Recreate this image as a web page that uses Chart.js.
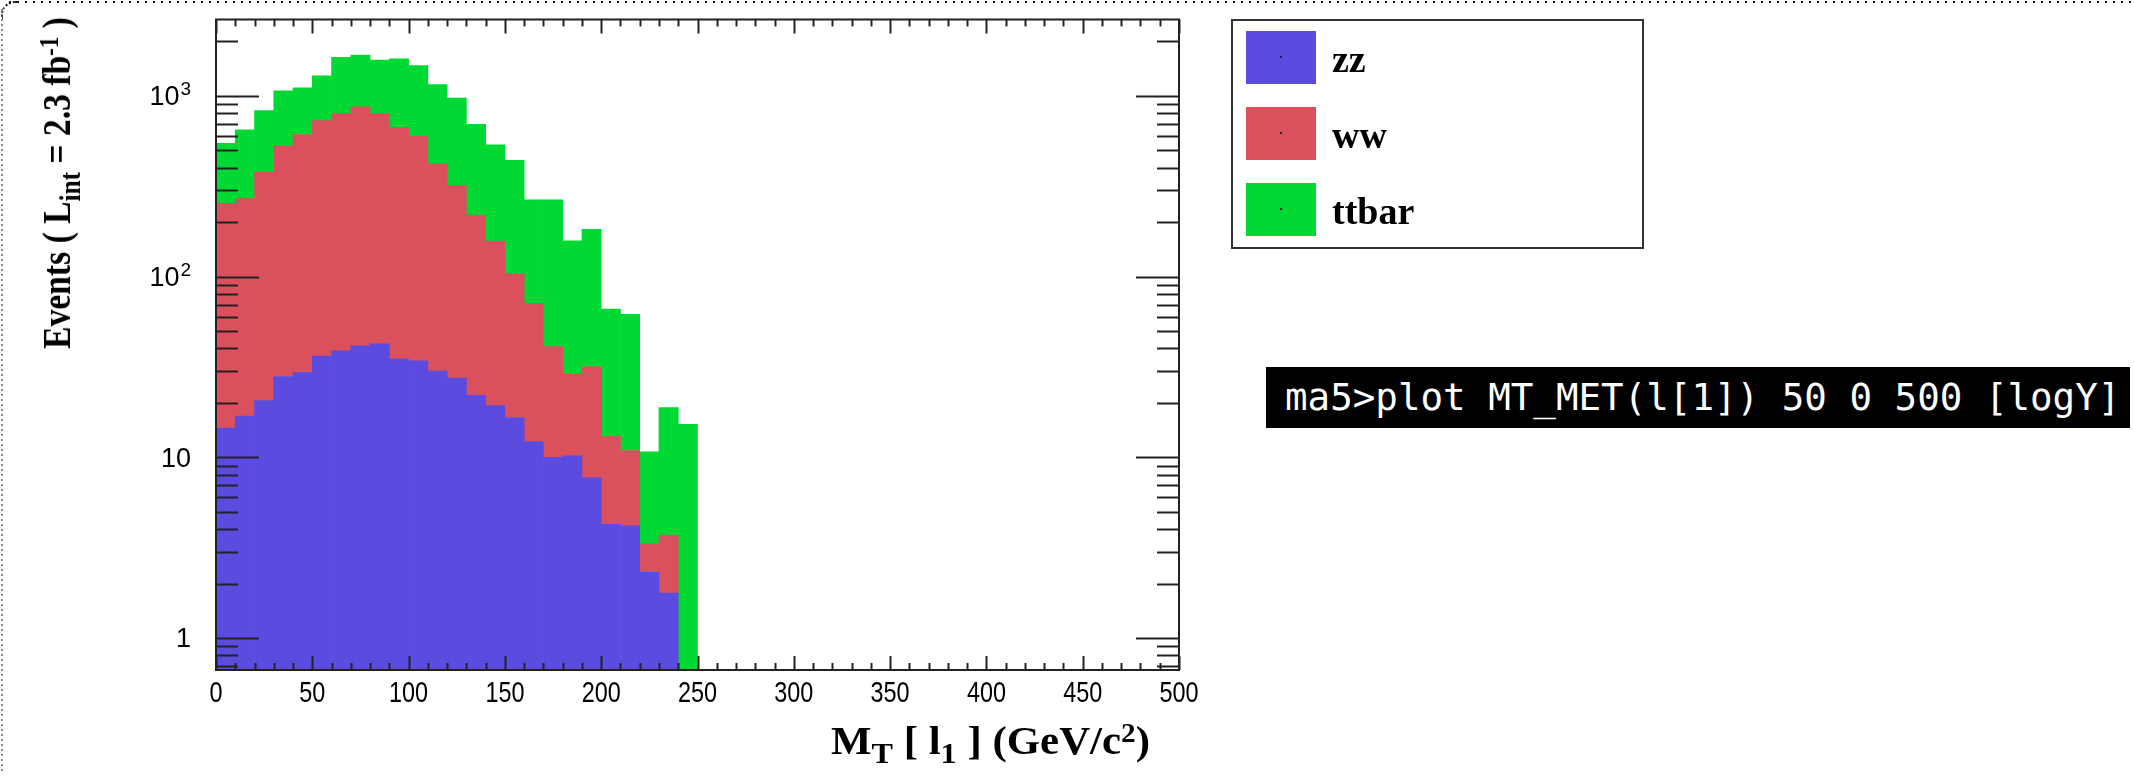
<!DOCTYPE html>
<html>
<head>
<meta charset="utf-8">
<title>MT_MET(l[1])</title>
<script src="https://cdn.jsdelivr.net/npm/chart.js@4.4.0/dist/chart.umd.min.js"></script>
<style>
  html, body { margin: 0; padding: 0; background: #fff; }
  #page { position: relative; width: 2134px; height: 780px; overflow: hidden; }
  #chart { position: absolute; left: 0; top: 0; }
  .dots-top { position: absolute; left: 9px; top: 1px; width: 2125px; height: 2px;
    background: repeating-linear-gradient(to right, #111 0 2px, transparent 2px 8px); }
  .dots-left { position: absolute; left: 1px; top: 9px; width: 2px; height: 762px;
    background: repeating-linear-gradient(to bottom, #888 0 2px, transparent 2px 5px); }
  .corner { position: absolute; left: 1px; top: 1px; width: 16px; height: 16px;
    border-top-left-radius: 14px; border-top: 2px dotted #111; border-left: 2px dotted #444; }
  .serif { position: absolute; font-family: "Liberation Serif", "Times New Roman", serif;
    font-weight: bold; color: #000; white-space: nowrap; }
  .lo { position: relative; top: 0.32em; font-size: 75%; }
  .hi { position: relative; top: -0.45em; font-size: 68%; }
  #xtitle { right: 984px; top: 721px; font-size: 39px; line-height: 39px;
    transform: scaleX(1.1); transform-origin: right center; }
  #ytitle { left: 59px; top: 183px; font-size: 40px; line-height: 40px;
    transform: translate(-50%, -50%) rotate(-90deg) scaleX(0.84); }
  #legend { position: absolute; left: 1231px; top: 19px; width: 413px; height: 230px;
    box-sizing: border-box; border: 2px solid #333; }
  .swatch { position: absolute; left: 1246px; width: 70px; height: 53px; }
  .swatch i { position: absolute; left: 34px; top: 25px; width: 2px; height: 2px; background: #222; }
  .entry { left: 1332px; font-size: 38px; line-height: 38px; }
  #cmd { position: absolute; left: 1266px; top: 367px; width: 864px; height: 61px;
    box-sizing: border-box; padding-left: 19px; background: #000; color: #fff;
    font-family: "DejaVu Sans Mono", "Liberation Mono", monospace; font-size: 37.5px;
    line-height: 61px; white-space: nowrap; }
</style>
</head>
<body>
<div id="page">
  <canvas id="chart" width="2134" height="780"></canvas>
  <div class="dots-top"></div>
  <div class="dots-left"></div>
  <div class="corner"></div>

  <div id="ytitle" class="serif">Events ( L<span class="lo">int</span> = 2.3 fb<span class="hi">-1</span> )</div>
  <div id="xtitle" class="serif">M<span class="lo">T</span> [ l<span class="lo">1</span> ] (GeV/c<span class="hi">2</span>)</div>

  <div id="legend"></div>
  <div id="legend-items"></div>

  <div id="cmd">ma5&gt;plot MT_MET(l[1]) 50 0 500 [logY]</div>
</div>

<script>
// 50 bins from 0 to 500 (lower edges)
const binLow = [0, 10, 20, 30, 40, 50, 60, 70, 80, 90,
  100, 110, 120, 130, 140, 150, 160, 170, 180, 190,
  200, 210, 220, 230, 240, 250, 260, 270, 280, 290,
  300, 310, 320, 330, 340, 350, 360, 370, 380, 390,
  400, 410, 420, 430, 440, 450, 460, 470, 480, 490];
const binWidth = 10;

// events per bin
const zz = [14.5, 16.9, 20.6, 28.0, 29.4, 36.3, 38.8, 41.4, 42.5, 34.9,
  34.2, 30.0, 27.4, 22.0, 19.3, 16.6, 12.2, 10.0, 10.2, 7.7,
  4.25, 4.17, 2.31, 1.77, 0, 0, 0, 0, 0, 0,
  0, 0, 0, 0, 0, 0, 0, 0, 0, 0,
  0, 0, 0, 0, 0, 0, 0, 0, 0, 0];
const ww = [240, 253, 357, 501, 582, 694, 759, 828, 756, 633,
  564, 392, 291, 197, 138, 87, 59, 31, 18.6, 24.1,
  8.75, 6.73, 1.01, 1.94, 0, 0, 0, 0, 0, 0,
  0, 0, 0, 0, 0, 0, 0, 0, 0, 0,
  0, 0, 0, 0, 0, 0, 0, 0, 0, 0];
const ttbar = [292, 378, 452, 537, 496, 560, 839, 811, 779, 935,
  874, 733, 653, 478, 379, 336, 195, 225, 129, 151,
  53, 51, 7.4, 15.1, 15.2, 0, 0, 0, 0, 0,
  0, 0, 0, 0, 0, 0, 0, 0, 0, 0,
  0, 0, 0, 0, 0, 0, 0, 0, 0, 0];

const seriesNames = ["zz", "ww", "ttbar"];
const seriesColors = ["#5b4cdf", "#db505d", "#00d934"];

// axis ticks
const xTickValues = [0, 50, 100, 150, 200, 250, 300, 350, 400, 450, 500];
const xTickLabels = ["0", "50", "100", "150", "200", "250", "300", "350", "400", "450", "500"];
const yTickValues = [1, 10, 100, 1000];
const yTickLabels = ["1", "10", "10^2", "10^3"];
const yMinorTicks = [0.7, 0.8, 0.9, 2, 3, 4, 5, 6, 7, 8, 9,
  20, 30, 40, 50, 60, 70, 80, 90, 200, 300, 400, 500, 600, 700, 800, 900, 2000];
const xMin = 0, xMax = 500, yMin = 0.665, yMax = 2647;

// legend (html)
let legendHtml = "";
seriesNames.forEach(function (name, i) {
  let top = 31 + i * 76;
  legendHtml += '<div class="swatch" style="top:' + top + 'px;background:' + seriesColors[i] + '"><i></i></div>';
  legendHtml += '<div class="serif entry" style="top:' + (top + 9) + 'px">' + name + '</div>';
});
document.getElementById("legend-items").innerHTML = legendHtml;

function toPoints(values) {
  return binLow.map(function (lo, i) {
    return { x: lo + binWidth / 2, y: values[i] > 0 ? values[i] : null };
  });
}

// ROOT style frame: inward ticks on all four sides + labels
const rootFrame = {
  id: "rootFrame",
  afterDraw(chart) {
    const ctx = chart.ctx;
    const a = chart.chartArea;
    const x = chart.scales.x;
    const y = chart.scales.y;
    ctx.save();
    ctx.strokeStyle = "#222";
    ctx.lineWidth = 2;
    ctx.strokeRect(a.left, a.top, a.right - a.left, a.bottom - a.top);

    ctx.beginPath();
    for (let v = xMin; v <= xMax; v += binWidth) {
      let px = Math.round(x.getPixelForValue(v)) + 0.5;
      let len = v % 50 === 0 ? 14 : 7;
      ctx.moveTo(px, a.bottom);
      ctx.lineTo(px, a.bottom - len);
      ctx.moveTo(px, a.top);
      ctx.lineTo(px, a.top + len);
    }
    yTickValues.forEach(function (v) {
      let py = Math.round(y.getPixelForValue(v)) + 0.5;
      ctx.moveTo(a.left, py);
      ctx.lineTo(a.left + 43, py);
      ctx.moveTo(a.right, py);
      ctx.lineTo(a.right - 43, py);
    });
    yMinorTicks.forEach(function (v) {
      let py = Math.round(y.getPixelForValue(v)) + 0.5;
      ctx.moveTo(a.left, py);
      ctx.lineTo(a.left + 22, py);
      ctx.moveTo(a.right, py);
      ctx.lineTo(a.right - 22, py);
    });
    ctx.stroke();

    // x labels (slightly condensed like the original)
    ctx.fillStyle = "#000";
    ctx.font = '30px "Liberation Sans", Arial, sans-serif';
    ctx.textAlign = "center";
    ctx.textBaseline = "alphabetic";
    xTickValues.forEach(function (v, i) {
      ctx.save();
      ctx.translate(x.getPixelForValue(v), a.bottom + 32);
      ctx.scale(0.78, 1);
      ctx.fillText(xTickLabels[i], 0, 0);
      ctx.restore();
    });

    // y labels, with exponent as superscript
    ctx.textAlign = "right";
    const right = a.left - 25;
    yTickValues.forEach(function (v, i) {
      let py = y.getPixelForValue(v);
      let parts = yTickLabels[i].split("^");
      let r = right;
      if (parts.length > 1) {
        ctx.font = '19px "Liberation Sans", Arial, sans-serif';
        ctx.fillText(parts[1], r, py - 1);
        r -= ctx.measureText(parts[1]).width + 1;
      }
      ctx.font = '27px "Liberation Sans", Arial, sans-serif';
      ctx.fillText(parts[0], r, py + 9.5);
    });
    ctx.restore();
  }
};

const ctx = document.getElementById("chart");
const chart = new Chart(ctx, {
  type: "bar",
  data: {
    datasets: [
      { label: seriesNames[0], data: toPoints(zz), backgroundColor: seriesColors[0] },
      { label: seriesNames[1], data: toPoints(ww), backgroundColor: seriesColors[1] },
      { label: seriesNames[2], data: toPoints(ttbar), backgroundColor: seriesColors[2] },
    ],
  },
  options: {
    responsive: false,
    animation: false,
    layout: { padding: { left: 216, top: 19.5, right: 955, bottom: 110 } },
    datasets: {
      bar: { barPercentage: 1, categoryPercentage: 1, borderWidth: 0 },
    },
    plugins: {
      legend: { display: false },
      tooltip: { enabled: false },
    },
    scales: {
      x: {
        type: "linear",
        min: xMin,
        max: xMax,
        stacked: true,
        offset: false,
        display: false,
        grid: { offset: false },
      },
      y: {
        type: "logarithmic",
        min: yMin,
        max: yMax,
        stacked: true,
        display: false,
      },
    },
  },
  plugins: [rootFrame],
});
</script>
</body>
</html>
